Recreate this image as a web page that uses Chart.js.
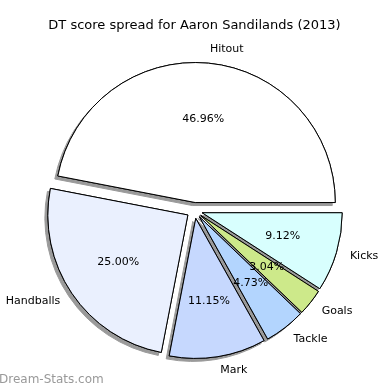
<!DOCTYPE html>
<html>
<head>
<meta charset="utf-8">
<script src="https://cdn.jsdelivr.net/npm/chart.js@4"></script>
<style>
  html, body { margin: 0; padding: 0; background: #fff; }
  #wrap { width: 390px; height: 390px; }
</style>
</head>
<body>
<div id="wrap"><canvas id="pieChart" width="390" height="390"></canvas></div>
<script>
// clockwise from 3 o'clock, so the order is reversed vs. the legend order
const categories = ['Kicks', 'Goals', 'Tackle', 'Mark', 'Handballs', 'Hitout'];
const shares = [9.12, 3.04, 4.73, 11.15, 25.00, 46.96];
const sliceColors = ['#d8fffe', '#cde98a', '#b3d5fe', '#c6d8fe', '#eaf0fe', '#ffffff'];

const RADIUS = 140;
const EXPLODE = 8; // px every slice is pushed out from the centre

function midAngle(el) {
    const p = el.getProps(['startAngle', 'endAngle'], true);
    return (p.startAngle + p.endAngle) / 2;
}

// chart.js's own "offset" also grows the radius, so push the wedges out here instead,
// and put a flat gray shadow under all of them first
const explodePlugin = {
    id: 'explode',
    beforeDatasetsDraw(chart) {
        const ctx = chart.ctx;
        const arcs = chart.getDatasetMeta(0).data;

        ctx.save();
        ctx.shadowColor = '#9a9a9a';
        ctx.shadowBlur = 0;
        ctx.shadowOffsetX = -3;
        ctx.shadowOffsetY = 3;
        arcs.forEach(el => {
            const a = midAngle(el);
            ctx.save();
            ctx.translate(Math.cos(a) * EXPLODE, Math.sin(a) * EXPLODE);
            el.draw(ctx);
            ctx.restore();
        });
        ctx.restore();

        arcs.forEach(el => {
            const a = midAngle(el);
            ctx.save();
            ctx.translate(Math.cos(a) * EXPLODE, Math.sin(a) * EXPLODE);
            el.draw(ctx);
            ctx.restore();
        });
        return false;
    },
    // names outside, percentages inside, like matplotlib's autopct
    afterDraw(chart) {
        const ctx = chart.ctx;
        const arcs = chart.getDatasetMeta(0).data;
        ctx.save();
        ctx.fillStyle = '#000';
        ctx.font = '11px "DejaVu Sans"';
        ctx.textBaseline = 'middle';
        arcs.forEach((el, i) => {
            const p = el.getProps(['x', 'y', 'outerRadius'], true);
            const mid = midAngle(el);
            const cx = p.x + Math.cos(mid) * EXPLODE;
            const cy = p.y + Math.sin(mid) * EXPLODE;
            const r = p.outerRadius;

            const lx = cx + Math.cos(mid) * r * 1.1;
            const ly = cy + Math.sin(mid) * r * 1.1;
            ctx.textAlign = lx > p.x ? 'left' : 'right';
            ctx.fillText(categories[i], lx, ly);

            ctx.textAlign = 'center';
            ctx.fillText(shares[i].toFixed(2) + '%', cx + Math.cos(mid) * r * 0.6, cy + Math.sin(mid) * r * 0.6);
        });

        ctx.fillStyle = '#999';
        ctx.font = '12px "DejaVu Sans"';
        ctx.textAlign = 'left';
        ctx.fillText('Dream-Stats.com', -1, 380);
        ctx.restore();
    }
};

const ctx = document.getElementById('pieChart').getContext('2d');
const chart = new Chart(ctx, {
    type: 'pie',
    data: {
        labels: categories,
        datasets: [{
            data: shares,
            backgroundColor: sliceColors,
            borderColor: '#000',
            borderWidth: 1,
        }],
    },
    options: {
        responsive: false,
        animation: false,
        events: [],
        rotation: 90,
        radius: RADIUS,
        layout: { padding: { top: 0, left: 0, right: 1, bottom: 2.6 } },
        plugins: {
            legend: { display: false },
            tooltip: { enabled: false },
            title: {
                display: true,
                text: 'DT score spread for Aaron Sandilands (2013)',
                color: '#000',
                font: { family: 'DejaVu Sans', size: 13, weight: 'normal', lineHeight: 1.2 },
                padding: { top: 18, bottom: 0 },
            },
        },
    },
    plugins: [explodePlugin],
});
</script>
</body>
</html>
